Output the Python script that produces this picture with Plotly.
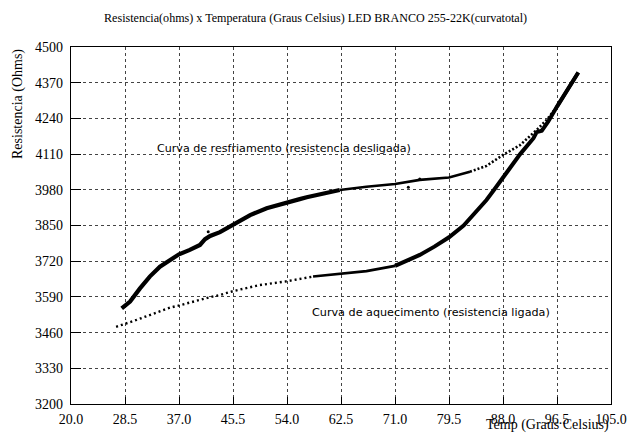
import plotly.graph_objects as go

# ---- data ----
cool_x = [27.98, 28.3, 29.3, 30.86, 32.4, 34.0, 35.6, 37.0, 38.7, 40.3, 41.1, 41.9, 43.45,
          45.5, 48.2, 50.8, 54.0, 56.0, 57.1, 59.2, 62.3, 66.5, 71.0, 74.9, 79.5,
          82.8, 85.4, 88.0, 90.7, 93.3, 94.9, 96.5, 98.0, 99.85]
cool_y = [3548, 3553, 3573, 3621, 3664, 3700, 3724, 3745, 3761, 3779, 3800, 3812, 3826,
          3852, 3888, 3913, 3931, 3946, 3953, 3965, 3979, 3991, 4001, 4016, 4025,
          4046, 4067, 4107, 4143, 4198, 4235, 4283, 4337, 4407]

heat_x = [27.1, 28.5, 30.3, 32.4, 35.6, 37.2, 40.3, 41.9, 43.45, 45.5, 49.7, 54.0, 58.1,
          62.5, 66.5, 71.0, 74.9, 77.2, 79.5, 81.8, 85.4, 86.6, 88.0, 90.7, 92.8,
          93.3, 94.1, 95.1, 96.5, 98.0, 99.85]
heat_y = [3481, 3491, 3506, 3524, 3551, 3560, 3581, 3589, 3597, 3611, 3633, 3647, 3664,
          3675, 3684, 3703, 3743, 3773, 3807, 3850, 3943, 3980, 4026, 4110, 4168,
          4190, 4195, 4228, 4283, 4337, 4407]

outlier_x = [41.6, 73.1, 74.9]
outlier_y = [3827, 3989, 4019]

x_ticks = [20.0, 28.5, 37.0, 45.5, 54.0, 62.5, 71.0, 79.5, 88.0, 96.5, 105.0]
y_ticks = [3200, 3330, 3460, 3590, 3720, 3850, 3980, 4110, 4240, 4370, 4500]

title_text = "Resistencia(ohms) x Temperatura (Graus Celsius) LED BRANCO 255-22K(curvatotal)"
x_title = "Temp (Graus Celsius)"
y_title = "Resistencia (Ohms)"
label_cool = "Curva de resfriamento (resistencia desligada)"
label_heat = "Curva de aquecimento (resistencia ligada)"


def segment(xs, ys, lo, hi):
    px, py = [], []
    for a, b in zip(xs, ys):
        if lo <= a <= hi:
            px.append(a)
            py.append(b)
    return px, py


fig = go.Figure()

segments = [
    (cool_x, cool_y, 27.0, 62.3, 4.2, "solid"),
    (cool_x, cool_y, 62.3, 82.8, 2.6, "solid"),
    (cool_x, cool_y, 82.8, 96.5, 2.6, "2px,2px"),
    (cool_x, cool_y, 96.5, 100.0, 3.5, "solid"),
    (heat_x, heat_y, 27.0, 58.1, 2.4, "2px,3px"),
    (heat_x, heat_y, 58.1, 71.0, 2.6, "solid"),
    (heat_x, heat_y, 71.0, 100.0, 4.0, "solid"),
]
for xs, ys, lo, hi, w, d in segments:
    sx, sy = segment(xs, ys, lo, hi)
    fig.add_trace(go.Scatter(x=sx, y=sy, mode="lines",
                             line=dict(color="black", width=w, dash=d),
                             hoverinfo="skip", showlegend=False))

fig.add_trace(go.Scatter(x=outlier_x, y=outlier_y, mode="markers",
                         marker=dict(color="black", size=3),
                         showlegend=False, hoverinfo="skip"))

serif = "Liberation Serif, Times New Roman, serif"
axis_common = dict(
    showline=True, linecolor="black", linewidth=1.2, mirror=True,
    ticks="inside", tickcolor="black", tickwidth=1.2,
    showgrid=True, gridcolor="#444444", gridwidth=1, griddash="dot",
    zeroline=False, automargin=False,
    tickfont=dict(family=serif, size=14, color="black"),
)

fig.update_layout(
    width=633, height=435,
    margin=dict(l=71, r=22, t=47, b=31, autoexpand=False),
    paper_bgcolor="white", plot_bgcolor="white",
    showlegend=False,
    xaxis=dict(range=[20, 105], tickvals=x_ticks,
               ticktext=["%.1f" % v for v in x_ticks], ticklen=7,
               ticklabelstandoff=2, **axis_common),
    yaxis=dict(range=[3200, 4500], tickvals=y_ticks,
               ticktext=[str(v) for v in y_ticks], ticklen=10,
               ticklabelstandoff=4, **axis_common),
    annotations=[
        dict(text=title_text, xref="paper", yref="paper", x=0.4537, y=1.0,
             yshift=29, xanchor="center", yanchor="middle", showarrow=False,
             font=dict(family=serif, size=12.1, color="black")),
        dict(text=x_title, xref="paper", yref="paper", x=1.0, y=0,
             yshift=-31, xanchor="right", yanchor="bottom", showarrow=False,
             font=dict(family=serif, size=14, color="black")),
        dict(text=y_title, xref="paper", yref="paper", x=0, y=1.0,
             xshift=-53, xanchor="center", yanchor="top", textangle=-90,
             showarrow=False, font=dict(family=serif, size=14, color="black")),
        dict(text=label_cool, x=33.2, y=4132, xref="x", yref="y",
             xanchor="left", yanchor="middle", showarrow=False,
             font=dict(family="DejaVu Sans", size=11.1, color="black")),
        dict(text=label_heat, x=57.6, y=3535, xref="x", yref="y",
             xanchor="left", yanchor="middle", showarrow=False,
             font=dict(family="DejaVu Sans", size=11.2, color="black")),
    ],
)

fig.write_html("out.html")
